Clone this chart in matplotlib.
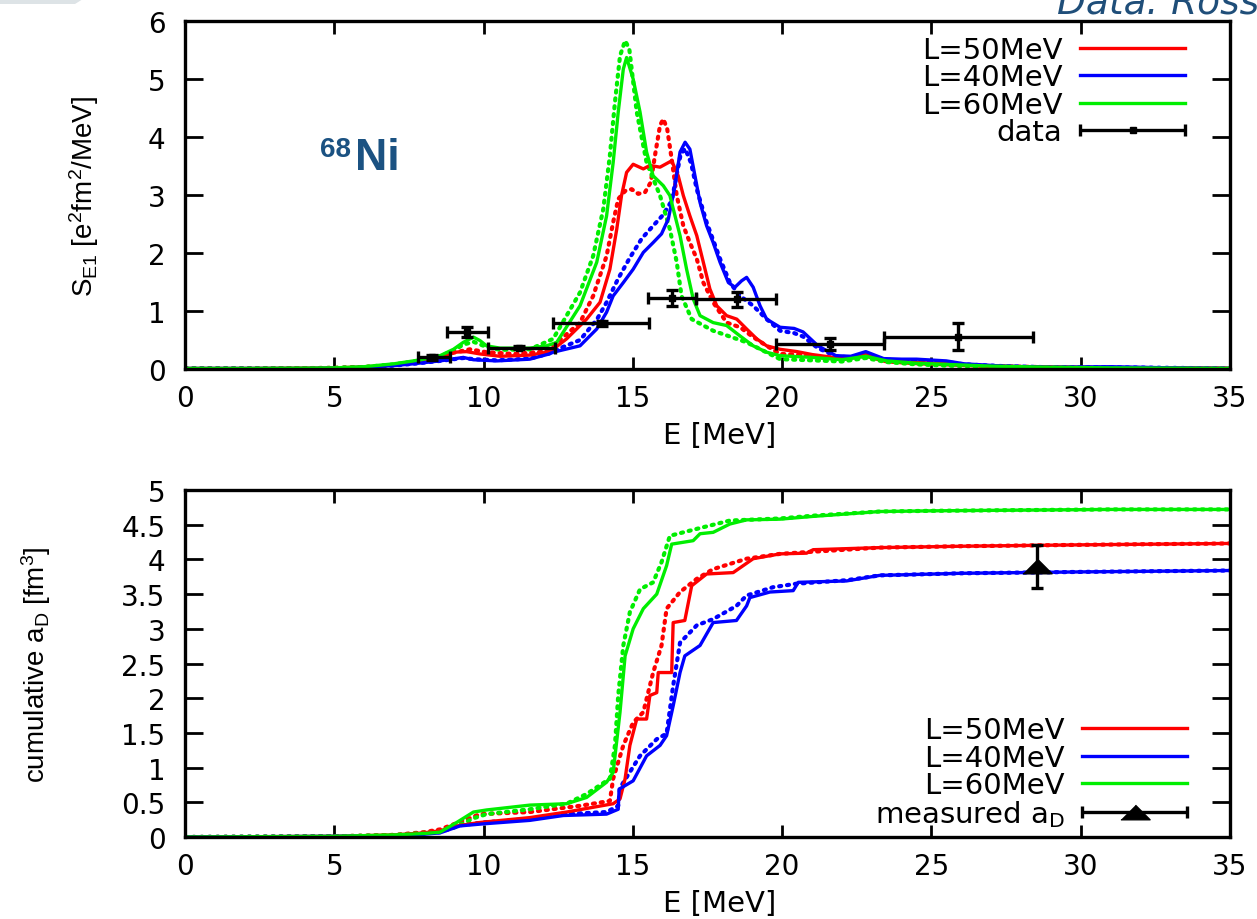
"""S_E1 strength and cumulative polarizability of 68Ni for three L values."""

import numpy as np
import matplotlib
matplotlib.use("Agg")
import matplotlib.pyplot as plt
from matplotlib.container import ErrorbarContainer
from matplotlib.legend_handler import HandlerErrorbar
from matplotlib.ticker import MultipleLocator, FormatStrFormatter
from matplotlib.patches import Polygon

plt.rcParams["font.family"] = ["DejaVu Sans"]
plt.rcParams["mathtext.default"] = "regular"

# ---- top panel: strength S_E1 (solid / dotted for each L) ----
s50_e = [0, 2, 4, 5, 6, 7, 7.65, 8.0, 8.54, 8.99, 9.43, 9.88, 10.55, 11.55, 12.11, 12.33, 12.78,
         13.45, 13.90, 14.23, 14.46, 14.62, 14.79, 15.01, 15.35, 15.57, 15.91, 16.30, 16.52, 16.69,
         16.91, 17.14, 17.36, 17.58, 17.81, 18.14, 18.48, 18.81, 19.15, 19.48, 19.93, 20.5, 21, 22,
         22.8, 23.5, 24.5, 25.5, 27, 29, 31, 33, 35]
s50 = [0.01, 0.01, 0.015, 0.02, 0.035, 0.07, 0.11, 0.14, 0.20, 0.29, 0.30, 0.26, 0.22, 0.24, 0.29,
       0.34, 0.52, 0.86, 1.15, 1.72, 2.41, 2.99, 3.39, 3.53, 3.45, 3.51, 3.48, 3.59, 3.33, 2.99,
       2.64, 2.30, 1.84, 1.38, 1.09, 0.92, 0.86, 0.69, 0.52, 0.40, 0.34, 0.30, 0.25, 0.18, 0.25,
       0.15, 0.11, 0.09, 0.05, 0.03, 0.02, 0.015, 0.01]
s50d_e = [0, 2, 4, 5, 6, 7, 7.65, 8.0, 8.54, 8.99, 9.54, 10.1, 11.0, 12.0, 12.33, 13.23, 13.67,
          14.12, 14.34, 14.51, 14.74, 14.96, 15.18, 15.41, 15.60, 15.74, 15.91, 16.02, 16.15, 16.30,
          16.47, 16.69, 16.91, 17.14, 17.36, 17.69, 18.14, 18.59, 19.03, 19.48, 19.93, 20.5, 21, 22,
          22.8, 23.5, 24.5, 25.5, 27, 29, 31, 33, 35]
s50d = [0.01, 0.01, 0.015, 0.02, 0.035, 0.07, 0.11, 0.14, 0.21, 0.28, 0.34, 0.29, 0.26, 0.30, 0.40,
        0.80, 1.26, 1.95, 2.53, 2.93, 3.07, 3.10, 3.02, 3.05, 3.22, 3.68, 4.20, 4.31, 4.14, 3.62,
        2.99, 2.47, 2.18, 1.90, 1.49, 1.15, 0.80, 0.72, 0.55, 0.40, 0.26, 0.25, 0.22, 0.17, 0.23,
        0.13, 0.10, 0.08, 0.05, 0.03, 0.02, 0.015, 0.01]

s40_e = [0, 2, 4, 5, 6, 7, 7.65, 8.0, 8.54, 9.32, 9.66, 10.44, 11.55, 12.2, 12.33, 13.23, 13.79,
         14.12, 14.34, 14.68, 15.01, 15.35, 15.68, 15.96, 16.19, 16.41, 16.58, 16.75, 16.91, 17.08,
         17.25, 17.47, 17.69, 17.92, 18.20, 18.42, 18.64, 18.81, 19.03, 19.26, 19.48, 19.93, 20.4,
         20.7, 21.2, 21.8, 22.3, 22.8, 23.4, 24.0, 24.5, 25.5, 26.1, 27.4, 29, 31, 33, 35]
s40 = [0.01, 0.01, 0.01, 0.015, 0.03, 0.06, 0.09, 0.11, 0.14, 0.20, 0.16, 0.14, 0.17, 0.26, 0.29,
       0.40, 0.69, 0.98, 1.26, 1.49, 1.72, 2.01, 2.18, 2.33, 2.59, 3.16, 3.74, 3.91, 3.79, 3.33,
       2.87, 2.47, 2.18, 1.84, 1.49, 1.41, 1.52, 1.58, 1.41, 1.09, 0.86, 0.72, 0.70, 0.64, 0.40,
       0.23, 0.22, 0.30, 0.18, 0.17, 0.17, 0.14, 0.09, 0.05, 0.03, 0.04, 0.02, 0.01]
s40d_e = [0, 2, 4, 5, 6, 7, 7.65, 8.0, 8.54, 9.32, 9.66, 10.44, 11.55, 12.2, 12.33, 13.23, 13.79,
          14.12, 14.5, 14.9, 15.3, 15.68, 16.0, 16.3, 16.45, 16.6, 16.75, 16.95, 17.14, 17.47,
          17.92, 18.25, 18.59, 19.03, 19.48, 19.93, 20.4, 20.7, 21.2, 21.8, 22.3, 22.8, 23.4, 24.0,
          24.5, 25.5, 26.1, 27.4, 29, 31, 33, 35]
s40d = [0.01, 0.01, 0.01, 0.015, 0.03, 0.06, 0.09, 0.11, 0.14, 0.19, 0.17, 0.15, 0.18, 0.27, 0.31,
        0.50, 0.85, 1.15, 1.55, 1.92, 2.25, 2.47, 2.65, 2.90, 3.30, 3.70, 3.80, 3.55, 3.10, 2.53,
        1.90, 1.49, 1.26, 1.09, 0.86, 0.66, 0.62, 0.56, 0.36, 0.22, 0.20, 0.27, 0.16, 0.15, 0.15,
        0.12, 0.08, 0.05, 0.03, 0.03, 0.02, 0.01]

s60_e = [0, 2, 4, 5, 6, 7, 7.65, 8.0, 8.54, 8.99, 9.32, 9.66, 9.88, 10.1, 10.55, 11.55, 12.11,
         12.45, 13.23, 13.79, 14.12, 14.34, 14.51, 14.68, 14.79, 15.01, 15.24, 15.46, 15.68, 16.02,
         16.24, 16.58, 16.80, 17.02, 17.25, 17.69, 18.14, 18.59, 19.03, 19.48, 19.93, 21.0, 22.0,
         22.8, 23.5, 24.5, 25.5, 27, 29, 31, 33, 35]
s60 = [0.01, 0.01, 0.015, 0.02, 0.04, 0.09, 0.14, 0.17, 0.23, 0.34, 0.46, 0.55, 0.49, 0.40, 0.36,
       0.36, 0.40, 0.46, 1.09, 1.84, 2.64, 3.56, 4.43, 5.17, 5.37, 5.00, 4.43, 3.74, 3.33, 3.16,
       2.99, 2.30, 1.72, 1.21, 0.92, 0.80, 0.75, 0.57, 0.40, 0.29, 0.23, 0.20, 0.16, 0.22, 0.14,
       0.10, 0.08, 0.05, 0.03, 0.02, 0.015, 0.01]
s60d_e = [0, 2, 4, 5, 6, 7, 7.65, 8.0, 8.54, 8.99, 9.32, 9.66, 10.1, 10.55, 11.55, 12.33, 13.23,
          13.67, 14.01, 14.23, 14.40, 14.57, 14.74, 14.88, 15.13, 15.46, 15.91, 16.24, 16.47,
          16.63, 16.97, 17.69, 18.81, 19.93, 21, 22, 22.8, 23.5, 24.5, 25.5, 27, 29, 31, 33, 35]
s60d = [0.01, 0.01, 0.015, 0.02, 0.035, 0.08, 0.13, 0.16, 0.22, 0.32, 0.42, 0.47, 0.38, 0.33, 0.34,
        0.52, 1.32, 1.95, 2.76, 3.68, 4.60, 5.40, 5.66, 5.52, 4.43, 3.56, 2.99, 2.41, 1.84, 1.26,
        0.86, 0.66, 0.46, 0.17, 0.15, 0.13, 0.19, 0.12, 0.08, 0.06, 0.04, 0.03, 0.02, 0.01, 0.01]

# measured strength (binned)
data_e = [8.27, 9.45, 11.2, 13.95, 16.32, 18.5, 21.6, 25.9]
data_s = [0.20, 0.64, 0.37, 0.79, 1.22, 1.20, 0.43, 0.56]
data_ex_lo = [0.47, 0.69, 1.04, 1.62, 0.80, 1.40, 1.80, 2.50]
data_ex_hi = [0.60, 0.71, 1.20, 1.60, 0.79, 1.30, 1.80, 2.50]
data_ey = [0.04, 0.08, 0.03, 0.04, 0.14, 0.13, 0.11, 0.23]

# ---- bottom panel: cumulative a_D ----
a50_e = [0, 5, 7, 8, 8.54, 9.1, 9.88, 11.55, 12.78, 14.34, 14.57, 14.74, 14.9, 15.13, 15.46, 15.57,
         15.8, 15.85, 16.3, 16.35, 16.74, 16.97, 17.47, 18.36, 19.03, 19.93, 20.82, 21.04, 23.27,
         26, 30, 35]
a50 = [0, 0.01, 0.03, 0.06, 0.09, 0.16, 0.21, 0.28, 0.36, 0.48, 0.55, 0.84, 1.32, 1.70, 1.70, 2.04,
       2.08, 2.37, 2.37, 3.09, 3.12, 3.62, 3.79, 3.81, 4.01, 4.08, 4.09, 4.14, 4.17, 4.19, 4.21, 4.23]
a50d_e = [0, 5, 7, 8, 8.54, 9.1, 9.88, 11.55, 13.23, 14.23, 14.34, 14.68, 15.01, 15.35, 15.68,
          15.96, 16.13, 16.58, 17.14, 17.69, 18.81, 19.93, 21, 23.27, 26, 30, 35]
a50d = [0, 0.01, 0.03, 0.07, 0.11, 0.20, 0.33, 0.36, 0.45, 0.52, 0.84, 1.32, 1.65, 1.80, 2.37, 2.76,
        3.29, 3.53, 3.72, 3.86, 4.01, 4.08, 4.11, 4.17, 4.19, 4.21, 4.23]

a40_e = [0, 5, 7, 8, 8.54, 9.21, 9.99, 11.55, 12.67, 14.12, 14.51, 14.54, 15.01, 15.46, 15.91,
         16.13, 16.35, 16.58, 16.74, 17.25, 17.69, 18.47, 18.81, 18.92, 19.59, 20.37, 20.54, 22.16,
         23.27, 26, 30, 35]
a40 = [0, 0.01, 0.02, 0.04, 0.06, 0.16, 0.19, 0.24, 0.31, 0.33, 0.40, 0.69, 0.81, 1.17, 1.32, 1.46,
       1.89, 2.37, 2.61, 2.76, 3.09, 3.12, 3.33, 3.45, 3.53, 3.55, 3.67, 3.69, 3.77, 3.80, 3.82, 3.84]
a40d_e = [0, 5, 7, 8, 8.54, 9.21, 9.99, 11.55, 12.67, 14.12, 14.51, 14.57, 15.24, 15.8, 16.13,
          16.35, 16.58, 17.14, 17.69, 18.47, 18.81, 19.7, 20.48, 22.16, 23.27, 26, 30, 35]
a40d = [0, 0.01, 0.02, 0.05, 0.07, 0.17, 0.21, 0.26, 0.33, 0.36, 0.45, 0.71, 1.17, 1.41, 1.49, 2.18,
        2.80, 3.05, 3.14, 3.33, 3.48, 3.60, 3.65, 3.70, 3.77, 3.80, 3.82, 3.84]

a60_e = [0, 5, 7, 8, 8.54, 9.1, 9.66, 10.1, 11.55, 12.78, 13.45, 14.12, 14.34, 14.57, 14.74, 15.01,
         15.35, 15.8, 16.13, 16.3, 17.02, 17.25, 17.69, 18.25, 18.81, 19.93, 21.04, 23.27, 25, 28,
         31, 35]
a60 = [0, 0.01, 0.03, 0.05, 0.07, 0.21, 0.36, 0.39, 0.46, 0.48, 0.57, 0.79, 0.93, 1.80, 2.61, 3.00,
       3.29, 3.50, 3.91, 4.22, 4.27, 4.37, 4.39, 4.51, 4.57, 4.58, 4.62, 4.69, 4.70, 4.71, 4.72, 4.72]
a60d_e = [0, 5, 7, 8, 8.54, 9.1, 9.66, 10.1, 11.55, 12.78, 13.45, 14.23, 14.4, 14.51, 14.68, 14.9,
          15.24, 15.68, 15.96, 16.24, 17.14, 18.25, 19.93, 21.04, 23.27, 25, 28, 31, 35]
a60d = [0, 0.01, 0.03, 0.06, 0.08, 0.15, 0.27, 0.33, 0.40, 0.48, 0.62, 0.84, 1.32, 2.04, 2.76, 3.24,
        3.57, 3.67, 3.96, 4.34, 4.44, 4.56, 4.59, 4.63, 4.69, 4.70, 4.71, 4.72, 4.72]

meas_e = [28.55]
meas_a = [3.90]
meas_err = [0.31]

RED, BLUE, GREEN = "#ff0000", "#0000ff", "#00ee00"
DOT = (0, (0.5, 1.4))
FS = 20
LW = 2.4

fig = plt.figure(figsize=(12.57, 9.2), dpi=100)
ax1 = fig.add_axes([0.1472, 0.5978, 0.8313, 0.3783])
ax2 = fig.add_axes([0.1472, 0.0891, 0.8313, 0.3772])

# top
for e, s, c in [(s50d_e, s50d, RED), (s40d_e, s40d, BLUE), (s60d_e, s60d, GREEN)]:
    ax1.plot(e, s, color=c, lw=3.0, ls=DOT, dash_capstyle="round")
l50, = ax1.plot(s50_e, s50, color=RED, lw=LW, label="L=50MeV")
l40, = ax1.plot(s40_e, s40, color=BLUE, lw=LW, label="L=40MeV")
l60, = ax1.plot(s60_e, s60, color=GREEN, lw=LW, label="L=60MeV")
eb = ax1.errorbar(data_e, data_s, xerr=[data_ex_lo, data_ex_hi], yerr=data_ey, fmt="s",
                  color="black", ms=5, elinewidth=2.4, capsize=4.5, capthick=2.4, zorder=5)
pl, caps, bars = eb.lines
data_proxy = ErrorbarContainer((pl, caps, bars[:1]), has_xerr=True, has_yerr=False, label="data")

# bottom
for e, a, c in [(a50d_e, a50d, RED), (a40d_e, a40d, BLUE), (a60d_e, a60d, GREEN)]:
    ax2.plot(e, a, color=c, lw=3.0, ls=DOT, dash_capstyle="round")
m50, = ax2.plot(a50_e, a50, color=RED, lw=LW, label="L=50MeV")
m40, = ax2.plot(a40_e, a40, color=BLUE, lw=LW, label="L=40MeV")
m60, = ax2.plot(a60_e, a60, color=GREEN, lw=LW, label="L=60MeV")
tri = [(-1, -0.5), (1, -0.5), (0, 0.5)]
eb2 = ax2.errorbar(meas_e, meas_a, yerr=meas_err, fmt="none", color="black",
                   elinewidth=2.4, capsize=4.5, capthick=2.4, zorder=5)
mk, = ax2.plot(meas_e, meas_a, ls="none", marker=tri, ms=21, color="black", zorder=6)
_, caps2, bars2 = eb2.lines
meas_proxy = ErrorbarContainer((mk, caps2, bars2), has_xerr=True, has_yerr=False,
                               label=r"measured a$_D$")

LFS = 21
hl = 105 / (LFS * 100 / 72)
hmap = {ErrorbarContainer: HandlerErrorbar(xerr_size=hl / 2)}
leg1 = ax1.legend(handles=[l50, l40, l60, data_proxy], loc="upper right",
                  bbox_to_anchor=(0.957, 0.957), frameon=False, markerfirst=False,
                  fontsize=LFS, handlelength=hl, handletextpad=0.6, labelspacing=-0.02,
                  borderaxespad=0, borderpad=0, handler_map=hmap)
leg2 = ax2.legend(handles=[m50, m40, m60, meas_proxy], loc="lower right",
                  bbox_to_anchor=(0.959, 0.022), frameon=False, markerfirst=False,
                  fontsize=LFS, handlelength=hl, handletextpad=0.6, labelspacing=-0.02,
                  borderaxespad=0, borderpad=0, handler_map=hmap)

ax1.set_xlim(0, 35)
ax1.set_ylim(0, 6)
ax2.set_xlim(0, 35)
ax2.set_ylim(0, 5)
ax1.yaxis.set_major_locator(MultipleLocator(1))
ax2.yaxis.set_major_locator(MultipleLocator(0.5))
ax2.yaxis.set_major_formatter(FormatStrFormatter("%g"))
for ax in (ax1, ax2):
    ax.xaxis.set_major_locator(MultipleLocator(5))
    for sp in ax.spines.values():
        sp.set_linewidth(2.4)
    ax.tick_params(axis="x", which="major", direction="in", top=True, length=9, width=2,
                   labelsize=FS, pad=11)
    ax.tick_params(axis="y", which="major", direction="in", right=True, length=13, width=2,
                   labelsize=FS, pad=14)
    ax.set_xlabel("E [MeV]", fontsize=21)
    ax.xaxis.set_label_coords(0.512, -0.15)

# rotated labels keep the narrower face
ax1.set_ylabel(r"S$_{E1}$ [e$^2$fm$^2$/MeV]", fontsize=20, family="Liberation Sans")
ax1.yaxis.set_label_coords(-0.08, 0.5)
ax2.set_ylabel(r"cumulative a$_D$ [fm$^3$]", fontsize=20, family="Liberation Sans")
ax2.yaxis.set_label_coords(-0.126, 0.5)

# nucleus tag
ax1.text(0.129, 0.612, "68", transform=ax1.transAxes, fontsize=20, fontweight="bold",
         color="#1b5282", ha="left", va="baseline", family="Liberation Sans")
ax1.text(0.163, 0.575, "Ni", transform=ax1.transAxes, fontsize=32, fontweight="bold",
         color="#1b5282", ha="left", va="baseline", family="Liberation Sans")

# slide remnants at the edges
fig.text(1057 / 1257, 1 - 13 / 920, "Data: Rossi et al.", fontsize=27, style="italic",
         color="#1f4e79", ha="left", va="baseline", family="DejaVu Sans")
fig.patches.append(Polygon([(0, 1), (83 / 1257, 1), (75 / 1257, 1 - 5 / 920), (0, 1 - 5 / 920)],
                           closed=True, transform=fig.transFigure, facecolor="#dde3e6",
                           edgecolor="none"))

fig.savefig("out.png", dpi=100)
